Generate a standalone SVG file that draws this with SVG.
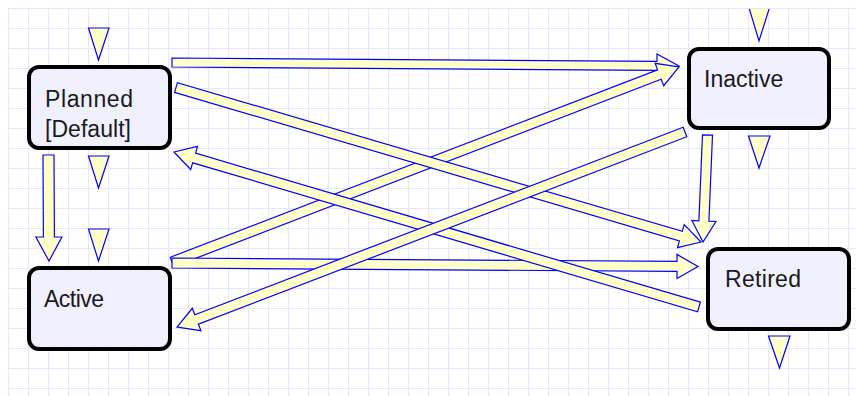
<svg xmlns="http://www.w3.org/2000/svg" width="856" height="396" viewBox="0 0 856 396">
<style>
.node rect{fill:#f0f0ff;stroke:#000;stroke-width:4}
.node text{font-family:"Liberation Sans",Arial,sans-serif;font-size:23px;fill:#1a1a1a}
.arrow{fill:#ffffc8;stroke:#0000ff;stroke-width:1.2;stroke-linejoin:miter}
.tri{fill:#ffffc8;stroke:#0000ff;stroke-width:1.2}
</style>
<defs>
<pattern id="grid" x="8" y="8" width="20" height="20" patternUnits="userSpaceOnUse">
<path d="M0 0.5H20M0.5 0V20" fill="none" stroke="#e6e6ff" stroke-width="1.2"/>
</pattern>
<clipPath id="top"><rect x="0" y="9" width="856" height="387"/></clipPath>
</defs>
<rect width="856" height="396" fill="#ffffff"/>
<rect x="8" y="8" width="848" height="388" fill="url(#grid)"/>
<g id="markers">
<polygon class="tri" points="88.5,28 109,28 98.5,60"/>
<polygon class="tri" points="88.5,156 109,156 98.5,188"/>
<polygon class="tri" points="88.5,229 109,229 98.5,261"/>
<polygon class="tri" points="748.5,6 770,6 759,41" clip-path="url(#top)"/>
<polygon class="tri" points="748.5,136 770,136 759,168"/>
<polygon class="tri" points="768.5,336 790,336 779.5,368"/>
</g>
<g id="connectors">
<polygon class="arrow" points="172,67 657,70.4 657,77.9 679,66 657,53.9 657,61.4 172,58"/>
<polygon class="arrow" points="173.8,266.7 661.2,79.2 663.7,85.7 679,67 655.1,63.3 657.6,69.9 170.2,257.3"/>
<polygon class="arrow" points="174.6,92.3 679.4,240.9 677.5,247.6 701,242 684.2,224.6 682.3,231.3 177.4,82.7"/>
<polygon class="arrow" points="702.5,134.8 698.9,220.8 691.9,220.5 703,242 715.9,221.5 708.9,221.2 712.5,135.2"/>
<polygon class="arrow" points="172,268 677,271.4 677,278.4 698,266.5 677,254.4 677,261.4 172,258"/>
<polygon class="arrow" points="700.4,302.2 195.6,153.2 197.5,146.4 174,152 190.7,169.5 192.7,162.8 697.6,311.8"/>
<polygon class="arrow" points="683.2,127.3 194.8,314.8 192.3,308.3 177,327 200.9,330.7 198.4,324.2 686.8,136.7"/>
<polygon class="arrow" points="43,155 43.4,237 35.9,237 49,261 61.9,237 54.4,237 54,155"/>
</g>
<g id="planned" class="node">
<rect x="29" y="67" width="141" height="81" rx="10"/>
<text x="45" y="107" textLength="88">Planned</text>
<text x="45" y="137" textLength="86">[Default]</text>
</g>
<g id="active" class="node">
<rect x="29" y="268" width="141" height="81" rx="10"/>
<text x="44" y="307" textLength="60">Active</text>
</g>
<g id="inactive" class="node">
<rect x="689" y="49" width="140" height="79" rx="10"/>
<text x="704" y="87">Inactive</text>
</g>
<g id="retired" class="node">
<rect x="708" y="249" width="141" height="80" rx="10"/>
<text x="725" y="287" textLength="76">Retired</text>
</g>
</svg>
